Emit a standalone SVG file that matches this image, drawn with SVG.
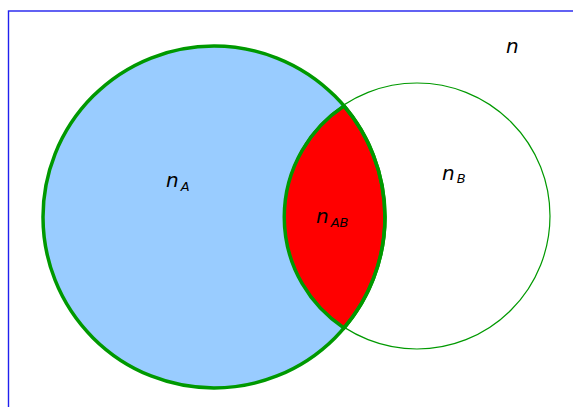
<svg xmlns="http://www.w3.org/2000/svg" width="573" height="407" viewBox="0 0 573 407">
<style>
.lbl{font-family:"DejaVu Sans",sans-serif;font-style:italic;fill:#000}
.main{font-size:20px}
.sub{font-size:13px}
</style>
<rect x="0" y="0" width="573" height="407" fill="#fff"/>
<rect x="8.5" y="11" width="600" height="420" fill="none" stroke="#2020ee" stroke-width="1.4"/>
<g id="setA">
<circle cx="214" cy="217" r="171" fill="#99ccff" stroke="none"/>
</g>
<g id="setB">
<circle cx="417" cy="216" r="133" fill="none" stroke="#009900" stroke-width="1.2"/>
</g>
<g id="intersection">
<path d="M344,106 A171,171 0 0 1 344,328 A133,133 0 0 1 344,106 Z" fill="#ff0000" stroke="#009900" stroke-width="3.5"/>
</g>
<g id="setA-outline">
<circle cx="214" cy="217" r="171" fill="none" stroke="#009900" stroke-width="3.5"/>
</g>
<g id="labels">
<text class="lbl main" x="506" y="53">n</text>
<text class="lbl main" x="166" y="187">n<tspan class="sub" dx="2" dy="4">A</tspan></text>
<text class="lbl main" x="316" y="223">n<tspan class="sub" dx="2" dy="4">AB</tspan></text>
<text class="lbl main" x="442" y="180">n<tspan class="sub" dx="2" dy="3">B</tspan></text>
</g>
</svg>
